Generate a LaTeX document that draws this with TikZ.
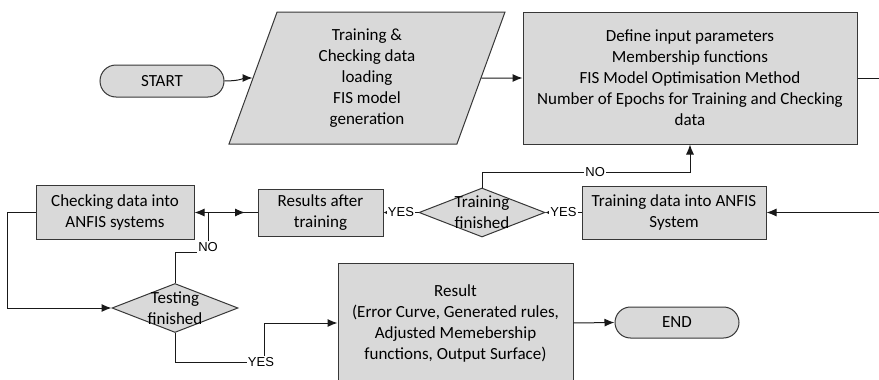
\documentclass[tikz,border=0pt]{standalone}
\usepackage{fontspec}
\setmainfont{Carlito}
\newfontfamily\answerfont{Liberation Sans}
\usepackage{tikz}
\usetikzlibrary{arrows.meta, shapes.geometric, shapes.misc, positioning}
\definecolor{boxgray}{RGB}{217,217,217}
\definecolor{edgegray}{RGB}{55,55,55}
\definecolor{linegray}{RGB}{25,25,25}

\tikzset{
  procbox/.style={draw=edgegray, fill=boxgray, line width=1pt,
                  align=center, inner sep=0pt},
  termbox/.style={rounded rectangle, draw=edgegray, fill=boxgray,
                  line width=1pt, minimum width=124, minimum height=32,
                  inner sep=0pt},
  decision/.style={diamond, draw=edgegray, fill=boxgray, line width=1pt,
                   inner sep=0pt, minimum width=126, minimum height=49},
  flow/.style={draw=linegray, line width=1pt},
  bigtip/.style={-{Latex[length=10pt, width=8pt]}},
  smalltip/.style={-{Latex[length=4pt, width=4pt]}},
  answer/.style={fill=white, inner sep=1pt,
                 font=\answerfont\fontsize{13}{15}\selectfont}
}

\begin{document}
\begin{tikzpicture}[x=1pt, y=-1pt, font=\fontsize{17}{21}\selectfont]
\useasboundingbox (0,0) rectangle (879,380);

%% TOP ROW – start, data loading, parameters
\node[termbox] (start) at (162,81) {START};
\node[trapezium, trapezium left angle=64, trapezium right angle=116,
      trapezium stretches body, draw=edgegray, fill=boxgray,
      line width=1pt, align=center, inner sep=0pt,
      minimum width=276, minimum height=132] (load) at (367,78)
  {Training \&\\Checking data\\loading\\FIS model\\generation};
\node[procbox, minimum width=334, minimum height=132] (define) at (690,78)
  {Define input parameters\\Membership functions\\FIS Model Optimisation Method\\
   Number of Epochs for Training and Checking\\data};
\coordinate (rightout) at (879,78);
\coordinate (rightin) at (879,212.5);

%% MIDDLE ROW – training and checking
\node[procbox, minimum width=184, minimum height=53] (train) at (674,212.5)
  {Training data into ANFIS\\System};
\node[decision, label={[align=center]center:Training\\finished}] (trainq)
  at (482,212.5) {};
\node[procbox, minimum width=125, minimum height=47] (results) at (320.5,212.5)
  {Results after\\training};
\node[procbox, minimum width=158, minimum height=54] (check) at (115,212.5)
  {Checking data into\\ANFIS systems};
\coordinate (split) at (208,212.5);
\coordinate (splittip) at (245,212.5);
\coordinate (nobend) at (208,252);

%% BOTTOM ROW – testing, result, end
\node[decision, label={[align=center]center:Testing\\finished}] (testq)
  at (175,308) {};
\node[procbox, minimum width=235, minimum height=120] (result) at (455.5,323)
  {Result\\(Error Curve, Generated rules,\\Adjusted Memebership\\
   functions, Output Surface)};
\node[termbox, minimum height=31] (finish) at (677,322.5) {END};
\coordinate (yesbend) at (264,362);

%% connectors
\draw[flow, bigtip] (start.east) .. controls (240,81) and (245,78) .. (load.west);
\draw[flow, bigtip] (load.east) -- (define.west);
\draw[flow] (define.east) -- (rightout);
\draw[flow, bigtip] (rightin) -- (train.east);
\draw[flow, smalltip] (train.west) -- node[answer] (yestrain) {YES} (trainq.east);
\draw[flow, bigtip] (trainq.north) -- ++(0,-15)
  -| node[answer, pos=0.272] (notrain) {NO} (define.south);
\draw[flow, smalltip] (trainq.west) -- node[answer] (yesresult) {YES} (results.east);
\draw[flow, bigtip] (results.west) -- (check.east);
\draw[flow, bigtip] (split) -- (splittip);
\draw[flow] (testq.north) |- (nobend) -- (split);
\node[answer] (notest) at (208,247) {NO};
\draw[flow, bigtip] (check.west) -- ++(-28,0) |- (testq.west);
\draw[flow] (testq.south) |- (yesbend);
\draw[flow, bigtip] (yesbend) |- (result.west);
\node[answer] (yestest) at (261,362) {YES};
\draw[flow, bigtip] (result.east) -- (finish.west);
\end{tikzpicture}
\end{document}
